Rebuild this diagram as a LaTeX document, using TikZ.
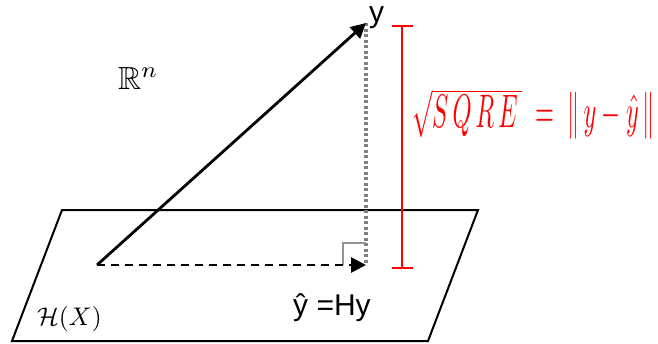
\documentclass[tikz,border=0pt]{standalone}
\usepackage{amssymb}
\usepackage{graphicx}
\usepackage{fontspec}
\newfontfamily\arialfont{Liberation Sans}
\usetikzlibrary{arrows.meta}
\tikzset{
  plane/.style={draw=black, line width=2pt, line join=miter},
  vec/.style={draw=black, line width=2.8pt, -{Triangle[length=15pt,width=15pt]}},
  dashvec/.style={vec, dash pattern=on 8pt off 6pt},
  perp/.style={draw=gray, line width=3.2pt, dash pattern=on 3pt off 2.5pt},
  rightang/.style={draw=gray!85, line width=2pt},
  errbar/.style={draw=red, line width=2pt, {Bar[width=21pt]}-{Bar[width=21pt]}},
  lbl/.style={inner sep=0pt, outer sep=0pt},
}
\begin{document}
\begin{tikzpicture}[x=1pt,y=-1pt]
\useasboundingbox (0,0) rectangle (658,343);
% plane
\coordinate (A) at (62,210);
\coordinate (B) at (478,210);
\coordinate (C) at (428,341);
\coordinate (D) at (12,341);
\draw[plane] (A) -- (B) -- (C) -- (D) -- cycle;
% points
\coordinate (O) at (97,265);
\coordinate (Y) at (366,23);
\coordinate (P) at (366,265);
% dotted perpendicular
\draw[perp] (Y) -- (P);
% right angle mark
\coordinate (R1) at (343,265);
\coordinate (R2) at (343,243);
\coordinate (R3) at (366,243);
\draw[rightang] (R1) -- (R2) -- (R3);
% vectors
\draw[vec] (O) -- (Y);
\draw[dashvec] (O) -- (P);
% error bar
\coordinate (E1) at (402,25);
\coordinate (E2) at (402,269);
\draw[errbar] (E1) -- (E2);
% labels
\node[lbl, anchor=base, text height=16pt] (ylab) at (376.5,22) {\arialfont\fontsize{30}{34}\selectfont y};
\node[lbl, anchor=base] (yhatlab) at (332,315) {\arialfont\fontsize{30}{34}\selectfont ŷ =Hy};
\node[lbl, anchor=base west] (Rn) at (118,89) {\scalebox{3.2}{$\mathbb{R}^n$}};
\node[lbl, anchor=base west] (HX) at (37,325) {\scalebox{2.55}{$\mathcal{H}(X)$}};
\node[lbl, anchor=west, text=red] (eq) at (412,114) {\resizebox{243pt}{39pt}{$\sqrt{S\,Q\,R\,E\,}\;=\;\|\,y-\hat{y}\,\|$}};
\end{tikzpicture}
\end{document}
